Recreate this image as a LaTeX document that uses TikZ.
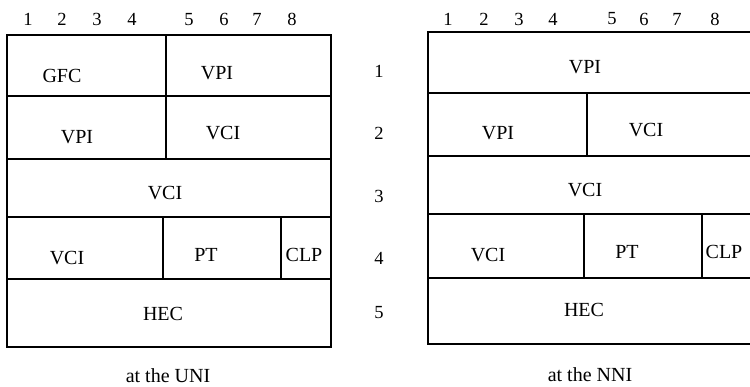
\documentclass[tikz,border=0pt]{standalone}
\usepackage{fontspec}
\setmainfont{Liberation Serif}
\begin{document}
\begin{tikzpicture}[x=1pt,y=-1pt,
  grid/.style={line width=1.2pt,black},
  lbl/.style={inner sep=0pt,font=\fontsize{20}{22}\selectfont},
  dig/.style={inner sep=0pt,font=\fontsize{18.5}{20}\selectfont}]
\useasboundingbox (0,0) rectangle (750,386);
% ---- left header (UNI)
\draw[grid] (7,35) rectangle (331,347);
\draw[grid] (7,96) -- (331,96);
\draw[grid] (7,159) -- (331,159);
\draw[grid] (7,217) -- (331,217);
\draw[grid] (7,279) -- (331,279);
\draw[grid] (166,35) -- (166,159);
\draw[grid] (163,217) -- (163,279);
\draw[grid] (281,217) -- (281,279);
\foreach \n/\x in {1/28,2/62,3/97,4/132,5/189,6/224,7/257,8/292}
  \node[dig] (ld\n) at (\x,19.5) {\n};
\node[lbl] (gfc) at (62,75.5) {GFC};
\node[lbl] (lvpi1) at (217,73.5) {VPI};
\node[lbl] (lvpi2) at (77,137) {VPI};
\node[lbl] (lvci2) at (223,133) {VCI};
\node[lbl] (lvci3) at (165,193) {VCI};
\node[lbl] (lvci4) at (67,258) {VCI};
\node[lbl] (lpt) at (206,255) {PT};
\node[lbl] (lclp) at (304,254.5) {CLP};
\node[lbl] (lhec) at (163,313.5) {HEC};
\node[lbl] (uni) at (168,376) {at the UNI};
% ---- row numbers
\foreach \n/\y in {1/71,2/133,3/196,4/258.5,5/312.5}
  \node[dig] (r\n) at (379,\y) {\n};
% ---- right header (NNI)
\draw[grid] (760,32) -- (428,32) -- (428,344) -- (760,344);
\draw[grid] (428,93) -- (760,93);
\draw[grid] (428,156) -- (760,156);
\draw[grid] (428,214) -- (760,214);
\draw[grid] (428,278) -- (760,278);
\draw[grid] (587,93) -- (587,156);
\draw[grid] (584,214) -- (584,278);
\draw[grid] (702,214) -- (702,278);
\foreach \n/\x in {1/448,2/484,3/519,4/553,5/612,6/644,7/677,8/715}
  \node[dig] (rd\n) at (\x,19) {\n};
\node[lbl] (rvpi1) at (585,67) {VPI};
\node[lbl] (rvpi2) at (498,133.5) {VPI};
\node[lbl] (rvci2) at (646,130) {VCI};
\node[lbl] (rvci3) at (585,190) {VCI};
\node[lbl] (rvci4) at (488,255) {VCI};
\node[lbl] (rpt) at (627,252) {PT};
\node[lbl] (rclp) at (724,252) {CLP};
\node[lbl] (rhec) at (584,310) {HEC};
\node[lbl] (nni) at (590,375) {at the NNI};
\end{tikzpicture}
\end{document}
